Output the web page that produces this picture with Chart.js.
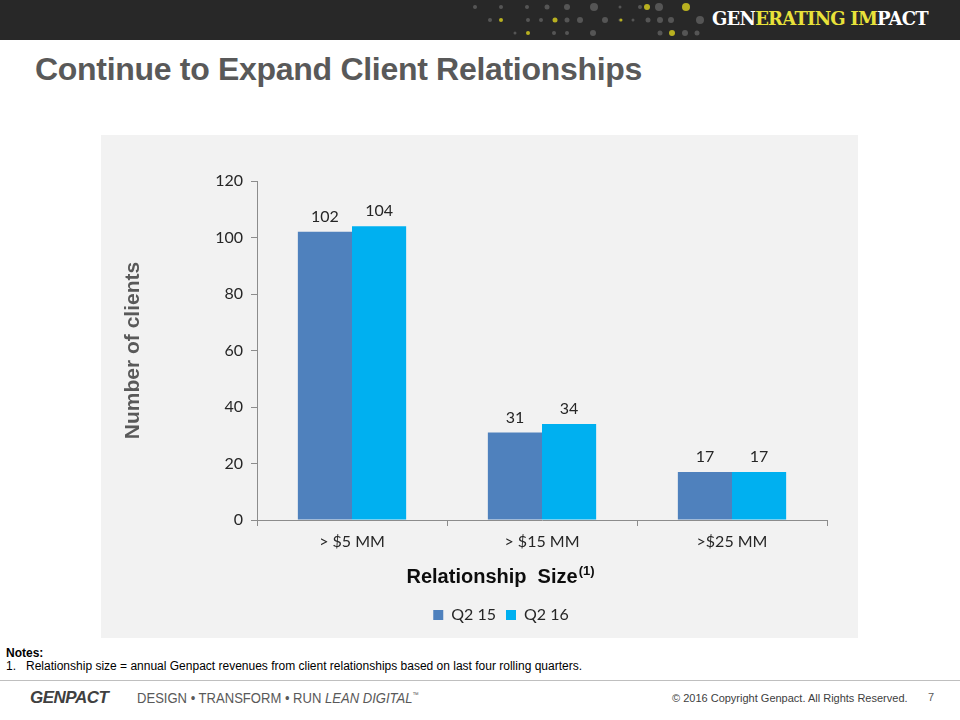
<!DOCTYPE html>
<html>
<head>
<meta charset="utf-8">
<script src="https://cdn.jsdelivr.net/npm/chart.js@4.4.0/dist/chart.umd.min.js"></script>
<style>
  html, body { margin: 0; padding: 0; background: #fff; }
  #slide { position: relative; width: 960px; height: 720px; overflow: hidden; font-family: "Liberation Sans", Arial, sans-serif; }
  #header { position: absolute; left: 0; top: 0; width: 960px; height: 40px; background: #282828; }
  #brand { position: absolute; left: 712px; top: 8px; font-family: "DejaVu Serif", serif; font-weight: bold; font-size: 18px; color: #fff; letter-spacing: -0.8px; }
  #brand span { color: #e8e23a; }
  #title { position: absolute; left: 35px; top: 51px; font-size: 32px; font-weight: bold; color: #595959; letter-spacing: -0.3px; }
  #panel { position: absolute; left: 101px; top: 135px; width: 757px; height: 503px; background: #f2f2f2; }
  #notes { position: absolute; left: 6px; top: 647px; font-size: 12px; color: #000; line-height: 13px; }
  #rule { position: absolute; left: 0; top: 680px; width: 960px; height: 1px; background: #bfbfbf; }
  #logo { position: absolute; left: 30px; top: 688px; font-size: 17px; font-weight: bold; font-style: italic; color: #404040; letter-spacing: -0.5px; }
  #tag { position: absolute; left: 137px; top: 689px; font-size: 15px; color: #595959; transform: scaleX(0.87); transform-origin: left top; white-space: nowrap; }
  #copy { position: absolute; left: 672px; top: 692px; font-size: 11px; color: #404040; }
  #page { position: absolute; left: 928px; top: 691px; font-size: 11px; color: #595959; }
</style>
</head>
<body>
<div id="slide">
  <div id="header">
    <svg width="720" height="40" style="position:absolute;left:0;top:0">
      <g fill="#555">
        <circle cx="475" cy="7" r="2"/><circle cx="501" cy="7" r="2"/><circle cx="527" cy="7" r="2"/>
        <circle cx="547" cy="7" r="2.5"/><circle cx="567" cy="7" r="3"/><circle cx="594" cy="7" r="4"/>
        <circle cx="620" cy="7" r="1.5"/><circle cx="640" cy="7" r="2"/><circle cx="659" cy="7" r="4"/>
        <circle cx="490" cy="20" r="2"/><circle cx="528" cy="20" r="2"/><circle cx="541" cy="20" r="2"/>
        <circle cx="567" cy="20" r="2.5"/><circle cx="580" cy="20" r="3"/><circle cx="605" cy="20" r="3"/>
        <circle cx="620" cy="20" r="1.5"/><circle cx="633" cy="20" r="1.5"/><circle cx="648" cy="20" r="2.5"/>
        <circle cx="660" cy="20" r="3"/><circle cx="671" cy="20" r="3"/><circle cx="700" cy="20" r="4"/>
        <circle cx="515" cy="33" r="1.5"/><circle cx="554" cy="33" r="2"/><circle cx="567" cy="33" r="2"/>
        <circle cx="593" cy="33" r="3"/><circle cx="660" cy="33" r="2.5"/><circle cx="685" cy="33" r="3"/>
        <circle cx="697" cy="33" r="2.5"/>
      </g>
      <g fill="#b8b020">
        <circle cx="501" cy="20" r="2"/><circle cx="555" cy="20" r="2.5"/><circle cx="621" cy="20" r="1.5"/>
        <circle cx="647" cy="7" r="3"/><circle cx="686" cy="7" r="4"/><circle cx="528" cy="33" r="2"/>
        <circle cx="672" cy="33" r="3"/>
      </g>
    </svg>
    <div id="brand">GEN<span>ERATING</span> <span>IM</span>PACT</div>
  </div>
  <div id="title">Continue to Expand Client Relationships</div>
  <div id="panel"><canvas id="chart" width="757" height="503"></canvas></div>
  <div id="notes"><b>Notes:</b><br>1.&nbsp;&nbsp;&nbsp;Relationship size = annual Genpact revenues from client relationships based on last four rolling quarters.</div>
  <div id="rule"></div>
  <div id="logo">GENPACT</div>
  <div id="tag">DESIGN • TRANSFORM • RUN <i>LEAN DIGITAL</i><sup style="font-size:7px">™</sup></div>
  <div id="copy">© 2016 Copyright Genpact. All Rights Reserved.</div>
  <div id="page">7</div>
</div>
<script>
// 数据
const categories = ['> $5 MM', '> $15 MM', '>$25 MM'];
const seriesNames = ['Q2 15', 'Q2 16'];
const q215Values = [102, 31, 17];
const q216Values = [104, 34, 17];
const yTicks = [0, 20, 40, 60, 80, 100, 120];

const tickFont = { family: 'Lato, "Open Sans", sans-serif', size: 16 };

// 柱顶数值标签
const valueLabels = {
  id: 'valueLabels',
  afterDatasetsDraw(chart) {
    const ctx = chart.ctx;
    ctx.save();
    ctx.font = '16px Lato, "Open Sans", sans-serif';
    ctx.fillStyle = '#262626';
    ctx.textAlign = 'center';
    ctx.textBaseline = 'bottom';
    chart.data.datasets.forEach((ds, i) => {
      chart.getDatasetMeta(i).data.forEach((bar, j) => {
        ctx.fillText(ds.data[j], bar.x, bar.y - 7);
      });
    });
    ctx.restore();
  }
};

// 图例右移，与原图居中位置一致
const legendShift = {
  id: 'legendShift',
  beforeDraw(chart) {
    if (chart.legend && !chart.legend._shifted) {
      chart.legend.left += 27;
      chart.legend.right += 27;
      chart.legend._shifted = true;
    }
  }
};

// X轴标题（带上标）
const xTitle = {
  id: 'xTitle',
  afterDraw(chart) {
    const ctx = chart.ctx;
    const area = chart.chartArea;
    const main = 'Relationship  Size';
    const sup = '(1)';
    ctx.save();
    ctx.fillStyle = '#0d0d0d';
    ctx.textBaseline = 'alphabetic';
    ctx.font = 'bold 20px "Liberation Sans", Arial, sans-serif';
    const w1 = ctx.measureText(main).width;
    ctx.font = 'bold 13px "Liberation Sans", Arial, sans-serif';
    const w2 = ctx.measureText(sup).width;
    const x0 = (area.left + area.right) / 2 - (w1 + w2) / 2 - 42;
    const y0 = area.bottom + 63;
    ctx.font = 'bold 20px "Liberation Sans", Arial, sans-serif';
    ctx.fillText(main, x0, y0);
    ctx.font = 'bold 13px "Liberation Sans", Arial, sans-serif';
    ctx.fillText(sup, x0 + w1 + 1, y0 - 8);
    ctx.restore();
  }
};

window.addEventListener('DOMContentLoaded', function() {
  const ctx = document.getElementById('chart').getContext('2d');
  new Chart(ctx, {
    type: 'bar',
    data: {
      labels: categories,
      datasets: [
        { label: seriesNames[0], data: q215Values, backgroundColor: '#4f81bd' },
        { label: seriesNames[1], data: q216Values, backgroundColor: '#00b0f0' }
      ]
    },
    options: {
      responsive: false,
      animation: false,
      events: [],
      categoryPercentage: 0.57,
      barPercentage: 1.0,
      layout: { padding: { left: 20, right: 31, top: 46, bottom: 5 } },
      scales: {
        x: {
          grid: { drawOnChartArea: false, drawTicks: true, tickLength: 6, color: '#8c8c8c', offset: true },
          border: { color: '#8c8c8c' },
          ticks: { font: tickFont, color: '#262626', padding: 6 },
          afterFit(scale) { scale.height = 77; }
        },
        y: {
          min: 0,
          max: 120,
          afterBuildTicks(scale) { scale.ticks = yTicks.map(v => ({ value: v })); },
          grid: { drawOnChartArea: false, drawTicks: true, tickLength: 6, color: '#8c8c8c' },
          border: { color: '#8c8c8c' },
          ticks: { font: tickFont, color: '#262626', padding: 8 },
          title: {
            display: true,
            text: 'Number of clients',
            color: '#595959',
            font: { family: '"Liberation Sans", Arial, sans-serif', size: 21, weight: 'bold' },
            padding: { top: 0, bottom: 0 }
          },
          afterFit(scale) { scale.width = 136; }
        }
      },
      plugins: {
        legend: {
          position: 'bottom',
          labels: { boxWidth: 10, boxHeight: 10, padding: 10, color: '#262626', font: tickFont }
        },
        tooltip: { enabled: false }
      }
    },
    plugins: [valueLabels, legendShift, xTitle]
  });
});
</script>
</body>
</html>
